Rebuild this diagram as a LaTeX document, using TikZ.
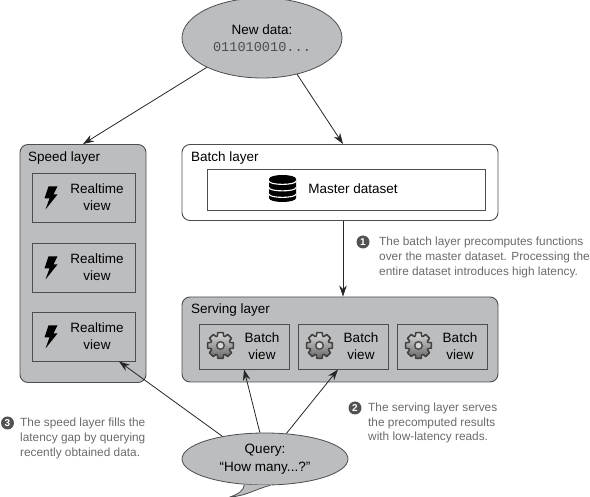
\documentclass[tikz,border=0pt]{standalone}
\usepackage{fontspec}
\setmainfont{Liberation Sans}
\setmonofont{Liberation Mono}
\usetikzlibrary{arrows.meta,shapes.geometric}
\definecolor{panel}{RGB}{187,189,191}
\definecolor{edge}{RGB}{75,77,80}
\definecolor{note}{RGB}{105,106,108}
\tikzset{%
  layer/.style    = {shape=rectangle, rounded corners=8pt, draw=edge, line width=0.9pt,%
                     minimum width=316pt, inner sep=0pt},%
  view/.style     = {shape=rectangle, draw=edge, line width=0.9pt, fill=panel, inner sep=0pt},%
  bubble/.style   = {ellipse, draw=edge, line width=0.8pt, fill=panel, inner sep=0pt, align=center,%
                     font=\fontsize{13.5}{17.5}\selectfont},%
  caption/.style  = {anchor=west, inner sep=0pt, font=\fontsize{13.5}{17}\selectfont},%
  viewtext/.style = {inner sep=0pt, align=center, font=\fontsize{13.5}{17}\selectfont},%
  notetext/.style = {anchor=west, inner sep=0pt, align=left, text=note,%
                     font=\fontsize{11.85}{14.7}\selectfont},%
  bullet/.style   = {circle, fill=black!68, text=white, inner sep=0pt, minimum size=13pt,%
                     font=\bfseries\fontsize{10}{10}\selectfont},%
  flow/.style     = {draw=black!85, line width=0.8pt, -{Stealth[length=11pt,width=7.5pt]}},%
  bolt/.pic       = {\fill[black] (-2,-11) -- (7,-11) -- (3,-3) -- (7,-3) -- (-5,12) -- (-1,1) -- (-6,1) -- cycle;},%
  cog/.pic        = {%
    \draw[black!75, line width=1.5pt, line join=round, top color=black!15, bottom color=black!60]
      (-18:10) \foreach \a in {0,45,...,315} {-- (\a-18:10) -- (\a-12:13.2) -- (\a+12:13.2) -- (\a+18:10)} -- cycle;
    \draw[black!70, line width=1.5pt, fill=panel!60!white] (0,0) circle (3.8);},%
  drum/.pic       = {%
    \fill[black] (-13.5,-9.5) .. controls (-13.5,-14.8) and (13.5,-14.8) .. (13.5,-9.5)
      -- (13.5,9.5) .. controls (13.5,14.8) and (-13.5,14.8) .. (-13.5,9.5) -- cycle;
    \foreach \y in {-7.5,-1,5.5}
      \draw[white, line width=1.1pt] (-13.5,\y) .. controls (-13.5,\y+4.5) and (13.5,\y+4.5) .. (13.5,\y);}%
}
\begin{document}
\begin{tikzpicture}[x=1pt,y=-1pt]
	\useasboundingbox (0,0) rectangle (590,497);
	% layers
	\node [layer, fill=panel, minimum width=126pt, minimum height=238pt] (speed) at (83,263.5) {};
	\node [layer, fill=white, minimum height=76pt] (batch) at (340,182.5) {};
	\node [layer, fill=panel, minimum height=85pt] (serving) at (340,339.5) {};
	\node [caption] (speedname) at (28,158.5) {Speed layer};
	\node [caption] (batchname) at (191,158.5) {Batch layer};
	\node [caption] (servingname) at (191,310.5) {Serving layer};
	% speed views
	\foreach \n/\y in {1/197.5,2/267.5,3/336.5}{%
		\node [view, minimum width=103pt, minimum height=49pt] (rt\n) at (83.5,\y) {};
		\node [viewtext] (rttext\n) at (97,\y) {Realtime\\view};
		\pic at (50.5,\y) {bolt};
	}
	% master dataset
	\node [view, fill=white, minimum width=278pt, minimum height=41pt] (master) at (346,189.5) {};
	\node [viewtext] (mastertext) at (353,189) {Master dataset};
	\pic at (282.5,188.5) {drum};
	% batch views
	\foreach \n/\x in {1/244,2/343,3/442}{%
		\node [view, minimum width=90pt, minimum height=45pt] (bv\n) at (\x,346.5) {};
		\node [viewtext] (bvtext\n) at (\x+18,346.5) {Batch\\view};
		\pic at (\x-23.5,345.5) {cog};
	}
	% bubbles
	\node [bubble, minimum width=160pt, minimum height=80pt] (newdata) at (262,38)
		{New data:\\[-1pt]{\ttfamily\color{edge}\fontsize{13.6}{15}\selectfont 011010010...}};
	\node [bubble, minimum width=166pt, minimum height=52pt] (query) at (265,459)
		{Query:\\“How many...?”};
	\draw [edge, line width=0.8pt, fill=panel] (query.231) .. controls (244,490) and (239,494) .. (230,497)
		.. controls (246,496) and (256,489) .. (query.281);
	% flows
	\draw [flow] (newdata.208) -- (speed.north);
	\draw [flow] (newdata.-46) -- ([xshift=3pt]batch.north);
	\draw [flow] ([xshift=3pt]batch.south) -- ([xshift=3pt]serving.north);
	\draw [flow] (query.152) -- ([xshift=35.5pt]rt3.south);
	\draw [flow] (query.101) -- (bv1.south);
	\draw [flow] (query.50) -- ([xshift=-5pt]bv2.south);
	% notes
	\node [bullet] (one) at (363,242) {1};
	\node [notetext] (onetext) at (379,257.5) {The batch layer precomputes functions\\over the master dataset. Processing the\\entire dataset introduces high latency.};
	\node [bullet] (two) at (355,408) {2};
	\node [notetext] (twotext) at (368,423) {The serving layer serves\\the precomputed results\\with low-latency reads.};
	\node [bullet] (three) at (7.5,423) {3};
	\node [notetext] (threetext) at (20,438.5) {The speed layer fills the\\latency gap by querying\\recently obtained data.};
\end{tikzpicture}
\end{document}
